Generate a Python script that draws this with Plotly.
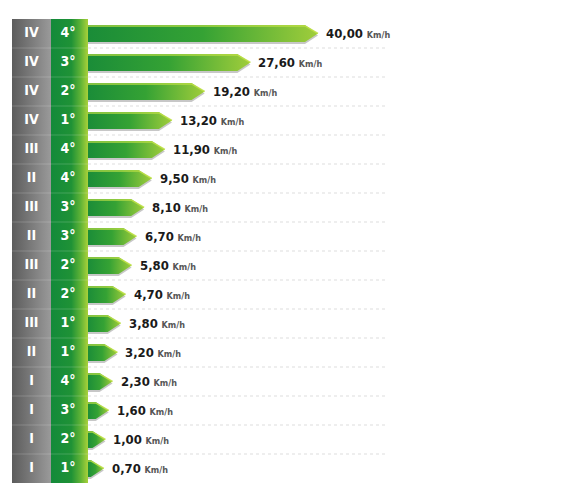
import plotly.graph_objects as go

# Data (top row first)
ranges = ["IV", "IV", "IV", "IV", "III", "II", "III", "II",
          "III", "II", "III", "II", "I", "I", "I", "I"]
gears = ["4°", "3°", "2°", "1°", "4°", "4°", "3°", "3°",
         "2°", "2°", "1°", "1°", "4°", "3°", "2°", "1°"]
speeds = [40.00, 27.60, 19.20, 13.20, 11.90, 9.50, 8.10, 6.70,
          5.80, 4.70, 3.80, 3.20, 2.30, 1.60, 1.00, 0.70]
unit = "Km/h"

W, H = 568, 496
n = len(speeds)
bar_x0 = 87          # px where bars start
px_per_unit = 5.45   # linear scale for bar body
head = 13 / px_per_unit  # arrow head length in data units
half = 0.29              # half bar height in row units
xmax = (W - bar_x0) / px_per_unit
FONT = "DejaVu Sans Condensed, Roboto Condensed, Roboto, Liberation Sans, sans-serif"

fig = go.Figure()

# Left columns (range + gear), drawn on a pixel-unit axis
col_y = [-0.5, -0.5, n - 0.5, n - 0.5, -0.5]
fig.add_trace(go.Scatter(
    x=[12, 51, 51, 12, 12], y=col_y, xaxis="x2", yaxis="y",
    mode="lines", fill="toself", line=dict(width=0),
    fillgradient=dict(type="horizontal",
                      colorscale=[[0, "#5c5c5c"], [1, "#9a9a9a"]]),
    hoverinfo="skip", showlegend=False))
fig.add_trace(go.Scatter(
    x=[51, 88, 88, 51, 51], y=col_y, xaxis="x2", yaxis="y",
    mode="lines", fill="toself", line=dict(width=0),
    fillgradient=dict(type="horizontal",
                      colorscale=[[0, "#138a3a"], [0.55, "#1f9236"],
                                  [0.8, "#5fb336"], [1, "#a9d13a"]]),
    hoverinfo="skip", showlegend=False))
fig.add_trace(go.Scatter(
    x=[31.5] * n, y=list(range(n)), xaxis="x2", yaxis="y",
    mode="text", text=ranges,
    textfont=dict(family=FONT, size=14, color="white", weight="bold"),
    hoverinfo="skip", showlegend=False))
fig.add_trace(go.Scatter(
    x=[68] * n, y=list(range(n)), xaxis="x2", yaxis="y",
    mode="text", text=gears,
    textfont=dict(family=FONT, size=14, color="white", weight="bold"),
    hoverinfo="skip", showlegend=False))

# Arrow bars
for i, v in enumerate(speeds):
    xs = [0, v, v + head, v, 0, 0]
    ys = [i - half, i - half, i, i + half, i + half, i - half]
    # shadow
    fig.add_trace(go.Scatter(
        x=xs, y=[y + 0.07 for y in ys], mode="lines", fill="toself",
        line=dict(width=0), fillcolor="rgba(0,0,0,0.22)",
        hoverinfo="skip", showlegend=False))
    fig.add_trace(go.Scatter(
        x=xs, y=ys, mode="lines", fill="toself", line=dict(width=0),
        fillgradient=dict(type="horizontal",
                          colorscale=[[0, "#1a8c38"], [0.5, "#35a234"],
                                      [1, "#a0cd3b"]]),
        hoverinfo="skip", showlegend=False))
    # top highlight
    fig.add_trace(go.Scatter(
        x=[0, v, v + head], y=[i - half + 0.03, i - half + 0.03, i],
        mode="lines", line=dict(width=1.5, color="rgba(190,225,70,0.85)"),
        hoverinfo="skip", showlegend=False))
    label = f"{v:.2f}".replace(".", ",")
    fig.add_annotation(
        x=v + head, y=i, xref="x", yref="y", xanchor="left", xshift=6,
        showarrow=False,
        text=(f"<b>{label}</b> <span style='font-size:9px;color:#555'>"
              f"<b>{unit}</b></span>"),
        font=dict(family=FONT, size=13, color="#1a1a1a"))

# Row separators
for i in range(n - 1):
    fig.add_shape(type="line", xref="paper", yref="y",
                  x0=88 / W, x1=385 / W, y0=i + 0.5, y1=i + 0.5,
                  line=dict(color="#dddddd", width=1, dash="dot"), layer="below")
    fig.add_shape(type="line", xref="paper", yref="y",
                  x0=12 / W, x1=88 / W, y0=i + 0.5, y1=i + 0.5,
                  line=dict(color="rgba(255,255,255,0.18)", width=1))

fig.update_layout(
    width=W, height=H,
    margin=dict(l=0, r=0, t=0, b=0),
    paper_bgcolor="white", plot_bgcolor="rgba(0,0,0,0)",
    xaxis=dict(domain=[bar_x0 / W, 1], range=[0, xmax], visible=False,
               fixedrange=True),
    xaxis2=dict(domain=[12 / W, 88 / W], range=[12, 88], visible=False,
                fixedrange=True, anchor="y"),
    yaxis=dict(domain=[1 - 483 / H, 1 - 19 / H], range=[n - 0.5, -0.5],
               visible=False, fixedrange=True),
    showlegend=False,
)

fig.write_html("out.html", config={"displayModeBar": False},
               post_script="document.body.style.margin='0';")
